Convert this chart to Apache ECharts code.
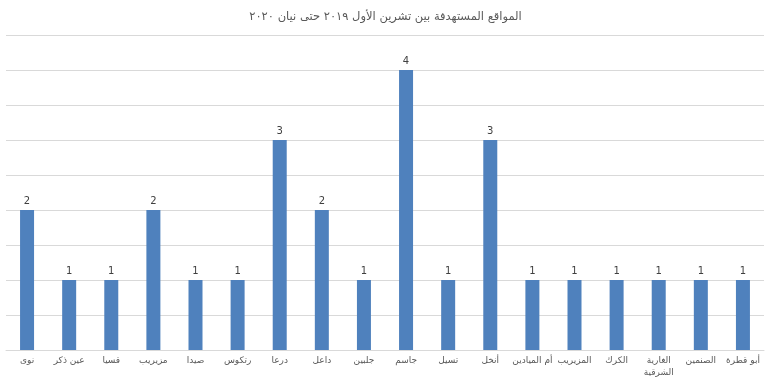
<!DOCTYPE html>
<html><head><meta charset="utf-8">
<script src="https://cdn.jsdelivr.net/npm/echarts@6/dist/echarts.min.js"></script>
<style>html,body{margin:0;padding:0;background:#fff}#c{width:771px;height:387px}</style>
</head><body><div id="c"></div>
<script>
const titleText = 'المواقع المستهدفة بين تشرين الأول ٢٠١٩ حتى نيان ٢٠٢٠';
const categories = ['نوى','عين ذكر','قسيا','مزيريب','صيدا','رتكوس','درعا','داعل','جلبين','جاسم','تسيل','أنخل','أم الميادين','المزيريب','الكرك','الغارية\nالشرقية','الصنمين','أبو قطرة'];
const values = [2,1,1,2,1,1,3,2,1,4,1,3,1,1,1,1,1,1];

const chart = echarts.init(document.getElementById('c'));
chart.setOption({
  animation:false,
  title:{text:titleText,left:'center',top:6,textStyle:{fontFamily:'DejaVu Sans',fontSize:11.5,fontWeight:'normal',color:'#595959'}},
  grid:{left:6,right:7,top:35,bottom:37,containLabel:false},
  xAxis:{type:'category',data:categories,
    axisLine:{lineStyle:{color:'#d9d9d9'}},axisTick:{show:false},
    axisLabel:{interval:0,color:'#595959',fontSize:9,fontFamily:'DejaVu Sans',margin:5,lineHeight:12}},
  yAxis:{type:'value',min:0,max:4.5,interval:0.5,axisLabel:{show:false},
    splitLine:{lineStyle:{color:'#d9d9d9'}},axisLine:{show:false},axisTick:{show:false}},
  series:[{type:'bar',data:values,barWidth:14,itemStyle:{color:'#4f81bd'},
    label:{show:true,position:'top',color:'#404040',fontSize:10,fontFamily:'DejaVu Sans',distance:4}}]
});
</script></body></html>
